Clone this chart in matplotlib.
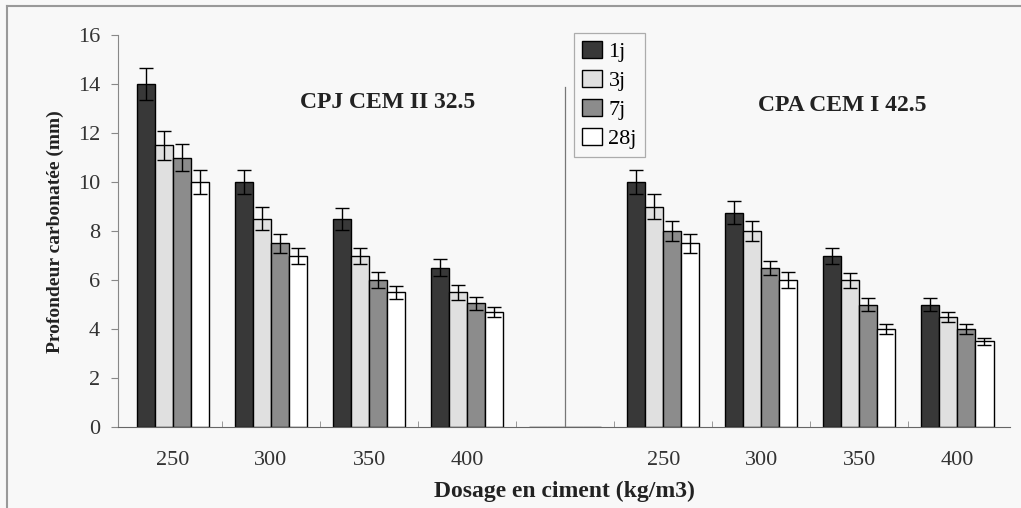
# -*- coding: utf-8 -*-
import matplotlib
matplotlib.use('Agg')
import matplotlib.pyplot as plt
import numpy as np

plt.rcParams['font.family'] = ['Liberation Serif', 'DejaVu Serif']

# categories (index 4 is the empty slot between the two cements)
dosages = ['250', '300', '350', '400', '', '250', '300', '350', '400']
ages = ['1j', '3j', '7j', '28j']

# profondeur carbonatee (mm), CPJ groups then empty slot then CPA groups
val_1j = [14.0, 10.0, 8.5, 6.5, 0, 10.0, 8.75, 7.0, 5.0]
val_3j = [11.5, 8.5, 7.0, 5.5, 0, 9.0, 8.0, 6.0, 4.5]
val_7j = [11.0, 7.5, 6.0, 5.05, 0, 8.0, 6.5, 5.0, 4.0]
val_28j = [10.0, 7.0, 5.5, 4.7, 0, 7.5, 6.0, 4.0, 3.5]

err_1j = [0.67, 0.5, 0.45, 0.35, 0, 0.5, 0.47, 0.33, 0.27]
err_3j = [0.58, 0.47, 0.33, 0.3, 0, 0.5, 0.4, 0.3, 0.2]
err_7j = [0.55, 0.38, 0.34, 0.28, 0, 0.4, 0.3, 0.26, 0.2]
err_28j = [0.49, 0.33, 0.27, 0.22, 0, 0.38, 0.34, 0.2, 0.15]

values = [val_1j, val_3j, val_7j, val_28j]
errors = [err_1j, err_3j, err_7j, err_28j]
colors = ['#383838', '#e0e0e0', '#8c8c8c', 'white']  # couleurs des barres

fig = plt.figure(figsize=(10.21, 5.08), dpi=100, facecolor='#f8f8f8')
ax = fig.add_axes([0.1156, 0.159, 0.874, 0.772])
ax.set_facecolor('#f8f8f8')

x = np.arange(len(dosages))
width = 0.184
for k in range(len(ages)):
    pos = x + (k - 1.5) * width
    ax.bar(pos, values[k], width, color=colors[k], edgecolor='black',
           linewidth=1.0, label=ages[k], zorder=2)
    m = np.array(values[k]) > 0
    ax.errorbar(pos[m], np.array(values[k])[m], yerr=np.array(errors[k])[m],
                fmt='none', ecolor='black', elinewidth=1.0, capsize=5,
                capthick=1.0, zorder=3)

# trait de separation entre les deux ciments
ax.plot([4, 4], [0, 13.9], color='#777777', linewidth=0.9)

ax.text(0.204, 0.827, 'CPJ CEM II 32.5', transform=ax.transAxes,
        fontsize=17, fontweight='bold', color='#222222', va='center')
ax.text(0.7175, 0.821, 'CPA CEM I 42.5', transform=ax.transAxes,
        fontsize=17, fontweight='bold', color='#222222', va='center')

ax.set_xlim(-0.56, 8.54)
ax.set_ylim(0, 16)
ax.set_yticks(np.arange(0, 17, 2))
ax.set_xticks(x)
ax.set_xticklabels(dosages)
ax.set_xticks(x[:-1] + 0.5, minor=True)
ax.tick_params(axis='x', which='major', length=0, pad=17, labelsize=16,
               labelcolor='#333333')
ax.tick_params(axis='x', which='minor', direction='in', length=4,
               color='#888888')
ax.tick_params(axis='y', direction='out', length=5, color='#888888',
               labelsize=16, labelcolor='#333333', pad=8)

for s in ['top', 'right']:
    ax.spines[s].set_visible(False)
ax.spines['left'].set_color('#888888')
ax.spines['bottom'].set_color('#666666')

ax.set_ylabel('Profondeur carbonatée (mm)', fontsize=14, fontweight='bold',
              color='#222222', labelpad=10)
ax.set_xlabel('Dosage en ciment (kg/m3)', fontsize=17, fontweight='bold',
              color='#222222', labelpad=8)

leg = ax.legend(loc='upper left', bbox_to_anchor=(0.511, 1.005),
                borderaxespad=0, fancybox=False, fontsize=16,
                handlelength=0.9, handleheight=0.8, handletextpad=0.3,
                labelspacing=0.35, borderpad=0.35)
leg.get_frame().set_edgecolor('#999999')
leg.get_frame().set_facecolor('#f8f8f8')
leg.get_frame().set_linewidth(0.9)

# cadre de l'image
fig.add_artist(plt.Line2D([0.007, 1.0], [0.988, 0.988], color='#999999',
                          linewidth=1.5, transform=fig.transFigure))
fig.add_artist(plt.Line2D([0.007, 0.007], [0.0, 0.988], color='#999999',
                          linewidth=1.5, transform=fig.transFigure))

fig.savefig('out.png', dpi=100, facecolor=fig.get_facecolor())
plt.close()
